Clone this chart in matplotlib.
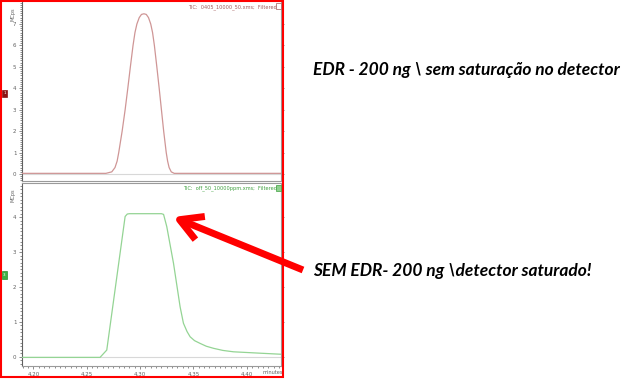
import matplotlib
matplotlib.use("Agg")
import matplotlib.pyplot as plt
from matplotlib.patches import Rectangle
from matplotlib.ticker import MultipleLocator

# ---------------- data ----------------
t_top = [4.189, 4.268, 4.2735, 4.2765, 4.2785, 4.2800, 4.2832, 4.2860, 4.2885, 4.2909,
         4.2934, 4.2952, 4.2970, 4.2992, 4.3013, 4.3036, 4.3058, 4.3079, 4.3100, 4.3117,
         4.3134, 4.3157, 4.3179, 4.3200, 4.3221, 4.3245, 4.3258, 4.3272, 4.3292, 4.3320,
         4.432]
y_top = [0.03, 0.03, 0.10, 0.30, 0.60, 1.0, 2.0, 3.0, 4.0, 5.0,
         6.0, 6.6, 7.0, 7.3, 7.45, 7.48, 7.45, 7.3, 7.0, 6.6,
         6.0, 5.0, 4.0, 3.0, 2.0, 1.0, 0.60, 0.30, 0.10, 0.03,
         0.03]

t_bot = [4.189, 4.2625, 4.2688, 4.286, 4.288, 4.290, 4.320, 4.322, 4.325, 4.3313,
         4.3375, 4.3406, 4.3440, 4.3469, 4.3510, 4.3563, 4.3620, 4.3688, 4.3775,
         4.3875, 4.400, 4.4125, 4.432]
y_bot = [-0.02, -0.02, 0.19, 4.02, 4.09, 4.10, 4.10, 4.08, 3.73, 2.68,
         1.43, 0.96, 0.72, 0.57, 0.46, 0.38, 0.30, 0.24, 0.18,
         0.14, 0.12, 0.10, 0.07]

x_ticks = [4.20, 4.25, 4.30, 4.35, 4.40]
x_tick_labels = ["4.20", "4.25", "4.30", "4.35", "4.40"]
top_yticks = [0, 1, 2, 3, 4, 5, 6, 7]
bot_yticks = [0, 1, 2, 3, 4]

title_top = "TIC:  0405_10000_50.xms;  Filtered"
title_bot = "TIC:  off_50_10000ppm.xms;  Filtered"
note_top = "EDR - 200 ng \\ sem saturação no detector"
note_bot = "SEM EDR- 200 ng \\detector saturado!"

# ---------------- figure ----------------
W, H = 634, 379
fig = plt.figure(figsize=(W / 100, H / 100), dpi=100)
fig.patch.set_facecolor("white")

def fx(px):
    return px / W

def fy(py):
    return 1 - py / H

axL, axR = 22, 281
ax1 = fig.add_axes([fx(axL), fy(181), fx(axR - axL), (181 - 2) / H])
ax2 = fig.add_axes([fx(axL), fy(366), fx(axR - axL), (366 - 183) / H])

xlim = (4.1894, 4.432)
top_col = "#cf9696"
bot_col = "#94d494"
spine_col = "#9a9a9a"

for ax in (ax1, ax2):
    ax.set_xlim(*xlim)
    ax.axhline(0, color="#d8d8d8", lw=0.8, zorder=1)
    for s in ax.spines.values():
        s.set_color(spine_col)
        s.set_linewidth(0.8)
    ax.spines["left"].set_color("#606060")
    ax.tick_params(axis="y", which="both", direction="out", length=2.5, width=0.5,
                   colors="#606060", labelsize=4, pad=1.5, right=True)
    ax.tick_params(axis="y", which="minor", length=1.5)
    ax.tick_params(axis="x", which="both", direction="out", length=2.5, width=0.5,
                   colors="#606060", labelsize=4, pad=2)
    ax.tick_params(axis="x", which="minor", length=1.5)
    ax.xaxis.set_minor_locator(MultipleLocator(0.005))

ax1.plot(t_top, y_top, color=top_col, lw=0.9, zorder=3, solid_joinstyle="round")
ax1.set_ylim(-0.327, 8.03)
ax1.set_yticks(top_yticks)
ax1.yaxis.set_minor_locator(MultipleLocator(0.1))
ax1.set_xticks(x_ticks)
ax1.tick_params(axis="x", labelbottom=False, bottom=False, which="both")
ax1.spines["top"].set_visible(False)
ax1.text(0.985, 0.985, title_top, transform=ax1.transAxes, ha="right", va="top",
         fontsize=3.6, color="#a05a5a")

ax2.plot(t_bot, y_bot, color=bot_col, lw=0.9, zorder=3, solid_joinstyle="round")
ax2.set_ylim(-0.267, 4.98)
ax2.set_yticks(bot_yticks)
ax2.yaxis.set_minor_locator(MultipleLocator(0.1))
ax2.set_xticks(x_ticks)
ax2.set_xticklabels(x_tick_labels)
ax2.text(0.985, 0.985, title_bot, transform=ax2.transAxes, ha="right", va="top",
         fontsize=3.6, color="#3fa03f")

# y-axis unit labels (rotated)
fig.text(fx(13), fy(14), "MCps", rotation=90, fontsize=3.6, color="#606060",
         ha="center", va="center")
fig.text(fx(13), fy(195), "MCps", rotation=90, fontsize=3.6, color="#606060",
         ha="center", va="center")
fig.text(fx(273), fy(373), "minutes", fontsize=3.6, color="#606060",
         ha="center", va="center")

# small trace markers at left
fig.patches.append(Rectangle((fx(2), fy(97)), fx(5), 7 / H, transform=fig.transFigure,
                             facecolor="#8b1414", edgecolor="#8b1414", lw=0.5))
fig.text(fx(4.5), fy(93.5), "1", fontsize=3, color="white", ha="center", va="center")
fig.patches.append(Rectangle((fx(2), fy(279)), fx(5), 8 / H, transform=fig.transFigure,
                             facecolor="#3cb043", edgecolor="#2e8b2e", lw=0.5))
fig.text(fx(4.5), fy(275), "3", fontsize=3, color="white", ha="center", va="center")

# small icons after the titles
fig.patches.append(Rectangle((fx(276), fy(9)), fx(5), 6 / H, transform=fig.transFigure,
                             facecolor="white", edgecolor="#a05a5a", lw=0.5))
fig.patches.append(Rectangle((fx(276), fy(191)), fx(5), 6 / H, transform=fig.transFigure,
                             facecolor="#8fd18f", edgecolor="#3fa03f", lw=0.5))

# red frame
fig.patches.append(Rectangle((fx(1), fy(377)), fx(282), 376 / H, transform=fig.transFigure,
                             facecolor="none", edgecolor="#ff0000", lw=1.5, zorder=10))

# annotations on the right
fkw = dict(fontsize=12.5, fontweight="bold", fontstyle="italic", family=["Lato", "DejaVu Sans"],
           color="black", va="center", ha="left")
fig.text(fx(313), fy(70), note_top, **fkw)
fig.text(fx(313), fy(271), note_bot, **fkw)

# red arrow
fig.add_artist(matplotlib.text.Annotation(
    "", xy=(173, H - 217), xycoords="figure pixels",
    xytext=(303, H - 270), textcoords="figure pixels",
    arrowprops=dict(arrowstyle="->,head_length=0.8,head_width=0.45", color="#ff0000",
                    lw=5, mutation_scale=20, shrinkA=0, shrinkB=0, capstyle="butt")))

fig.savefig("out.png", dpi=100, facecolor="white")
